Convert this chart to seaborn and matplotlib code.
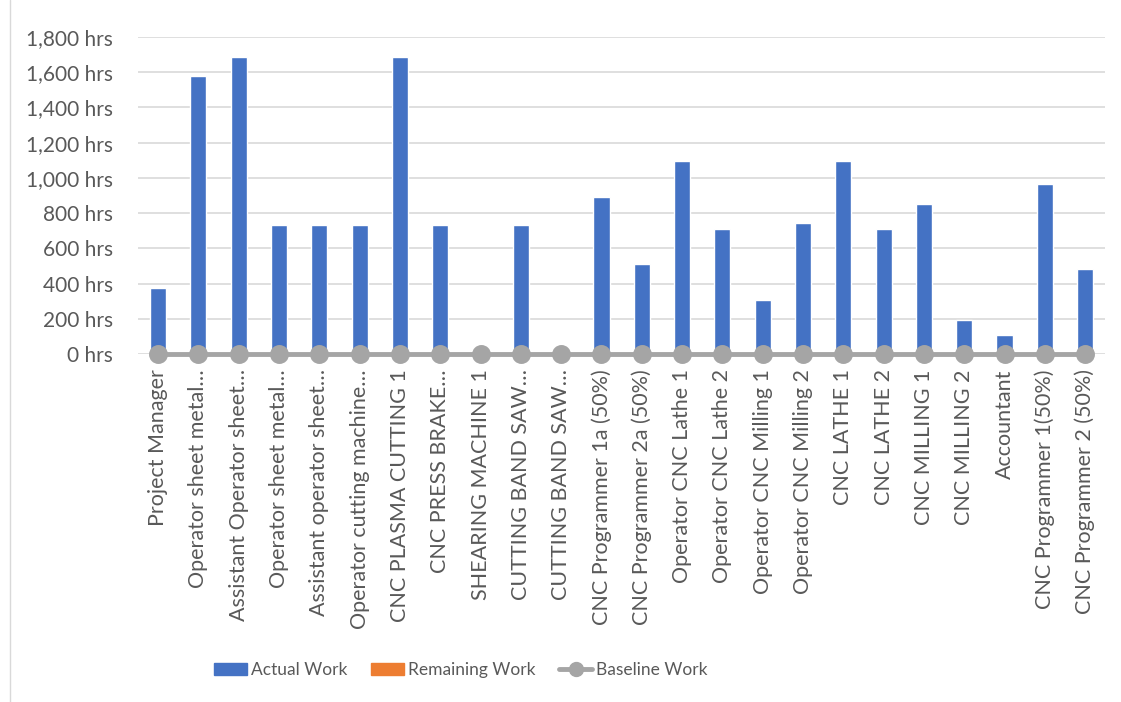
import numpy as np
import pandas as pd
import seaborn as sns
import matplotlib.pyplot as plt
from matplotlib.patches import Patch
from matplotlib.lines import Line2D
from matplotlib.ticker import FuncFormatter
from matplotlib import font_manager

# values
resources = ["Project Manager", "Operator sheet metal…", "Assistant Operator sheet…",
             "Operator sheet metal…", "Assistant operator sheet…", "Operator cutting machine…",
             "CNC PLASMA CUTTING 1", "CNC PRESS BRAKE…", "SHEARING MACHINE 1",
             "CUTTING BAND SAW…", "CUTTING BAND SAW…", "CNC Programmer 1a (50%)",
             "CNC Programmer 2a (50%)", "Operator CNC Lathe 1", "Operator CNC Lathe 2",
             "Operator CNC Milling 1", "Operator CNC Milling 2", "CNC LATHE 1", "CNC LATHE 2",
             "CNC MILLING 1", "CNC MILLING 2", "Accountant", "CNC Programmer 1(50%)",
             "CNC Programmer 2 (50%)"]
actual_work = [376, 1580, 1686, 733, 733, 733, 1686, 733, 0, 733, 4, 890,
               511, 1096, 708, 307, 746, 1096, 708, 850, 195, 106, 965, 481]
remaining_work = [0] * 24
baseline_work = [0] * 24

blue = "#4472C4"
orange = "#ED7D31"
grey = "#A5A5A5"
txt = "#595959"
fs = 15.5

# duplicate labels are made unique for the categorical axis
keys = [f"{i}_{r}" for i, r in enumerate(resources)]
df = pd.DataFrame({"key": keys, "Actual Work": actual_work,
                   "Remaining Work": remaining_work, "Baseline Work": baseline_work})

sns.set_style("white")
plt.rcParams["font.family"] = ["Lato", "DejaVu Sans"]

# narrow face for the legend if one is installed
names = {f.name for f in font_manager.fontManager.ttflist}
if "Liberation Sans Narrow" in names:
    leg_font = {"family": "Liberation Sans Narrow", "size": 14.5}
else:
    leg_font = {"family": "Lato", "size": 12.5}

fig = plt.figure(figsize=(11.21, 7.02), dpi=100)
ax = fig.add_axes([0.123, 0.4957, 0.863, 0.4516])

sns.barplot(data=df, x="key", y="Actual Work", color=blue, width=0.4,
            saturation=1, ax=ax, zorder=2)
sns.pointplot(data=df, x="key", y="Baseline Work", color=grey, markers="o",
              markersize=11, linewidth=3.5, ax=ax, zorder=3)
for c in ax.collections:
    c.set_clip_on(False)
for l in ax.lines:
    l.set_clip_on(False)

ax.set_ylim(0, 1800)
ax.set_xlim(-0.5, len(keys) - 0.5)
ax.set_yticks(np.arange(0, 1801, 200))
ax.yaxis.set_major_formatter(FuncFormatter(lambda v, p: f"{v:,.0f} hrs"))
ax.grid(axis="y", color="#D9D9D9", linewidth=1.2, zorder=0)
ax.set_axisbelow(True)
sns.despine(ax=ax, left=True, top=True, right=True, bottom=True)
ax.set_xlabel("")
ax.set_ylabel("")
ax.set_xticks(range(len(resources)))
ax.set_xticklabels(resources, rotation=90, fontsize=fs, color=txt)
ax.tick_params(axis="y", labelsize=15, labelcolor=txt, length=0, pad=18)
ax.tick_params(axis="x", length=0, pad=11)

handles = [Patch(color=blue, label="Actual Work"),
           Patch(color=orange, label="Remaining Work"),
           Line2D([], [], color=grey, lw=3.5, marker="o", markersize=10, label="Baseline Work")]
fig.legend(handles=handles, loc="center", bbox_to_anchor=(0.411, 1 - 670 / 702), ncol=3,
           frameon=False, prop=leg_font, labelcolor=txt, handlelength=1.9,
           columnspacing=1.35, handletextpad=0.25)

# outer chart frame edge on the left
fig.add_artist(Line2D([10 / 1121, 10 / 1121], [0, 1], color="#D9D9D9", lw=1))

fig.savefig("out.png", dpi=100)
